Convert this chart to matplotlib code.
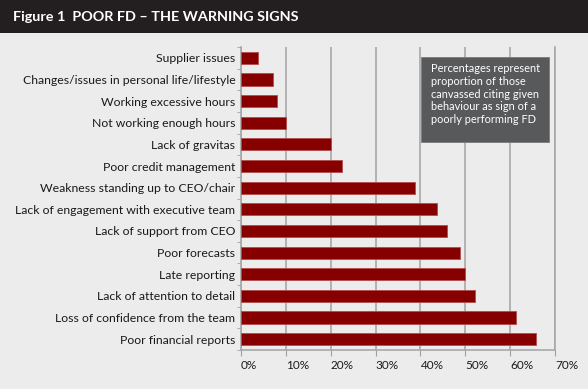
import matplotlib
matplotlib.use('Agg')
import matplotlib.pyplot as plt
from matplotlib.patches import Rectangle

# data (top to bottom)
categories = [
    'Supplier issues',
    'Changes/issues in personal life/lifestyle',
    'Working excessive hours',
    'Not working enough hours',
    'Lack of gravitas',
    'Poor credit management',
    'Weakness standing up to CEO/chair',
    'Lack of engagement with executive team',
    'Lack of support from CEO',
    'Poor forecasts',
    'Late reporting',
    'Lack of attention to detail',
    'Loss of confidence from the team',
    'Poor financial reports',
]
values = [3.9, 7.1, 8.0, 10.0, 20.0, 22.6, 38.8, 43.7, 45.9, 48.8, 50.0, 52.1, 61.4, 65.7]
x_ticks = [0, 10, 20, 30, 40, 50, 60, 70]
x_labels = ['0%', '10%', '20%', '30%', '40%', '50%', '60%', '70%']

title = 'Figure 1  POOR FD \u2013 THE WARNING SIGNS'
note = ('Percentages represent\nproportion of those\ncanvassed citing given\n'
        'behaviour as sign of a\npoorly performing FD')

plt.rcParams['font.family'] = ['Lato', 'DejaVu Sans']

W, H = 588, 389
fig = plt.figure(figsize=(W / 100, H / 100), dpi=100)
fig.patch.set_facecolor('#ebeceb')

# title bar
fig.patches.append(Rectangle((0, 1 - 33 / H), 1, 33 / H, transform=fig.transFigure,
                             facecolor='#231f20', edgecolor='none'))
fig.text(13 / W, 1 - 17 / H, title, color='white', fontsize=10.4, fontweight='bold',
         va='center', ha='left')

ax = fig.add_axes([241 / W, (H - 350) / H, 314 / W, 303 / H])
ax.set_facecolor('#ebeceb')

n = len(categories)
ypos = list(range(n))[::-1]
ax.barh(ypos, values, height=0.56, color='#870000', edgecolor='#b34d4d', linewidth=0.6,
        zorder=3)

ax.set_xlim(0, 70)
ax.set_ylim(-0.5, n - 0.5)

ax.set_xticks(x_ticks)
ax.set_xticklabels(x_labels, ha='left')
ax.set_yticks(ypos)
ax.set_yticklabels(categories)
ax.set_yticks([k + 0.5 for k in range(-1, n)], minor=True)

ax.tick_params(axis='y', which='major', length=0, pad=4, labelsize=8.8, colors='#1a1a1a')
ax.tick_params(axis='y', which='minor', length=3, direction='out', color='#a0a0a0')
ax.tick_params(axis='x', length=4, direction='out', color='#a0a0a0', pad=3,
               labelsize=8.5, labelcolor='#1a1a1a')

ax.grid(axis='x', color='#a8a8a8', linewidth=1.2, zorder=0)
ax.spines['top'].set_visible(False)
for s in ['left', 'right', 'bottom']:
    ax.spines[s].set_color('#a8a8a8')
    ax.spines[s].set_linewidth(1.2)

# note box
fig.patches.append(Rectangle((421 / W, 1 - 142 / H), 128 / W, 85 / H,
                             transform=fig.transFigure, facecolor='#58595b',
                             edgecolor='#7a7a7a', linewidth=0.6, zorder=5))
fig.text(431 / W, 1 - 63 / H, note, color='white', fontsize=7.9,
         va='top', ha='left', linespacing=1.2, zorder=6)

fig.savefig('out.png', dpi=100, facecolor=fig.get_facecolor())
